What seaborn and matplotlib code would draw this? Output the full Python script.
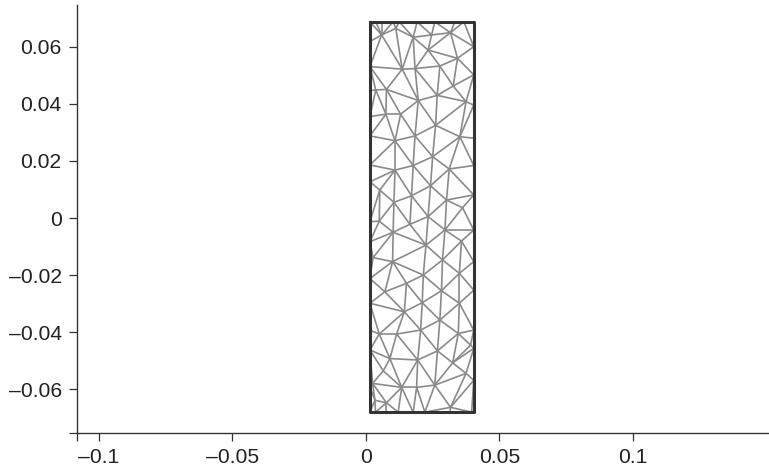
import numpy as np
import pandas as pd
import seaborn as sns
import matplotlib.pyplot as plt
import matplotlib.tri as mtri

sns.set_style("ticks")
plt.rcParams['font.family'] = ['Liberation Sans', 'DejaVu Sans']

# mesh nodes
left_y = [0.0688, 0.0619, 0.0531, 0.0447, 0.0356, 0.0288, 0.0186, 0.0127, -0.0013, -0.0083,
          -0.0212, -0.0299, -0.0393, -0.0463, -0.0592, -0.0681]
right_y = [0.0688, 0.0601, 0.0502, 0.0396, 0.0280, 0.0184, 0.0081, -0.0042, -0.0153, -0.0253,
           -0.0393, -0.0457, -0.0569, -0.0681]
top_x = [0.0037, 0.0059, 0.0102, 0.0125, 0.0192, 0.0258, 0.0333, 0.0367]
bottom_x = [0.0036, 0.0077, 0.0121, 0.0177, 0.0221, 0.0315, 0.0396]

inner_x = [0.0059, 0.0112, 0.0177, 0.0246, 0.0317, 0.0136, 0.0184, 0.0233, 0.0277,
           0.0343, 0.0327, 0.0267, 0.0196, 0.0037, 0.0077, 0.0075, 0.0130, 0.0261, 0.0184,
           0.0109, 0.0375, 0.0352,
           0.0250, 0.0177, 0.0109, 0.0312, 0.0052, 0.0242, 0.0171, 0.0105, 0.0302,
           0.0362, 0.0233, 0.0165, 0.0102, 0.0050, 0.0296, 0.0358, 0.0225, 0.0287, 0.0100,
           0.0027, 0.0350, 0.0215, 0.0152,
           0.0283, 0.0071, 0.0211, 0.0350, 0.0144, 0.0277, 0.0205, 0.0346, 0.0050,
           0.0115, 0.0392, 0.0268, 0.0194, 0.0090, 0.0325, 0.0375, 0.0065, 0.0025, 0.0134,
           0.0190, 0.0258, 0.0077, 0.0317, 0.0034]
inner_y = [0.0642, 0.0665, 0.0634, 0.0642, 0.0650, 0.0522, 0.0524, 0.0589, 0.0533,
           0.0560, 0.0463, 0.0430, 0.0412, 0.0449, 0.0451, 0.0364, 0.0364, 0.0325, 0.0288,
           0.0271, 0.0408, 0.0285,
           0.0215, 0.0184, 0.0168, 0.0172, 0.0098, 0.0113, 0.0078, 0.0055, 0.0063,
           0.0036, 0.0005, -0.0022, -0.0050, -0.0011, -0.0042, -0.0081, -0.0095, -0.0147, -0.0153,
           -0.0139, -0.0194, -0.0200, -0.0229,
           -0.0255, -0.0259, -0.0297, -0.0299, -0.0329, -0.0358, -0.0393, -0.0405, -0.0407,
           -0.0407, -0.0446, -0.0466, -0.0498, -0.0493, -0.0508, -0.0545, -0.0536, -0.0580, -0.0594,
           -0.0594, -0.0586, -0.0648, -0.0664, -0.0639]

x_left, x_right = 0.0015, 0.0404
y_top, y_bottom = 0.0688, -0.0681
frame_x = [x_left, x_right, x_right, x_left, x_left]
frame_y = [y_top, y_top, y_bottom, y_bottom, y_top]

x_ticks = [-0.1, -0.05, 0, 0.05, 0.1]
x_labels = ["\u20130.1", "\u20130.05", "0", "0.05", "0.1"]
y_ticks = [-0.06, -0.04, -0.02, 0, 0.02, 0.04, 0.06]
y_labels = ["\u20130.06", "\u20130.04", "\u20130.02", "0", "0.02", "0.04", "0.06"]

xs = [x_left] * len(left_y) + [x_right] * len(right_y) + top_x + bottom_x + inner_x
ys = left_y + right_y + [y_top] * len(top_x) + [y_bottom] * len(bottom_x) + inner_y
tri = mtri.Triangulation(np.array(xs), np.array(ys))

rows = []
for k, (a, b) in enumerate(tri.edges):
    rows.append((k, xs[a], ys[a]))
    rows.append((k, xs[b], ys[b]))
edges = pd.DataFrame(rows, columns=["edge", "x", "y"])

fig = plt.figure(figsize=(7.69, 4.70), dpi=100)
ax = fig.add_axes([77 / 769, 37 / 470, 691 / 769, 428 / 470])

sns.lineplot(data=edges, x="x", y="y", units="edge", estimator=None, sort=False,
             color="#8a8a8a", lw=1.2, ax=ax, legend=False)
sns.lineplot(x=frame_x, y=frame_y, estimator=None, sort=False, color="#333333", lw=2.2, ax=ax)

ax.set_xlim(-0.1082, 0.1506)
ax.set_ylim(-0.0754, 0.0747)
ax.set_xticks(x_ticks, x_labels)
ax.set_yticks(y_ticks, y_labels)
ax.set_xticks([-0.1082], minor=True)
ax.set_yticks([-0.0754], minor=True)
ax.tick_params(which="both", length=6, width=0.9, color="#333333")
ax.tick_params(axis="both", labelsize=15.2, labelcolor="#222222", pad=5)
ax.set_xlabel("")
ax.set_ylabel("")
sns.despine(ax=ax)
for s in ["left", "bottom"]:
    ax.spines[s].set_color("#333333")
    ax.spines[s].set_linewidth(1.0)

plt.savefig("out.png", dpi=100)
